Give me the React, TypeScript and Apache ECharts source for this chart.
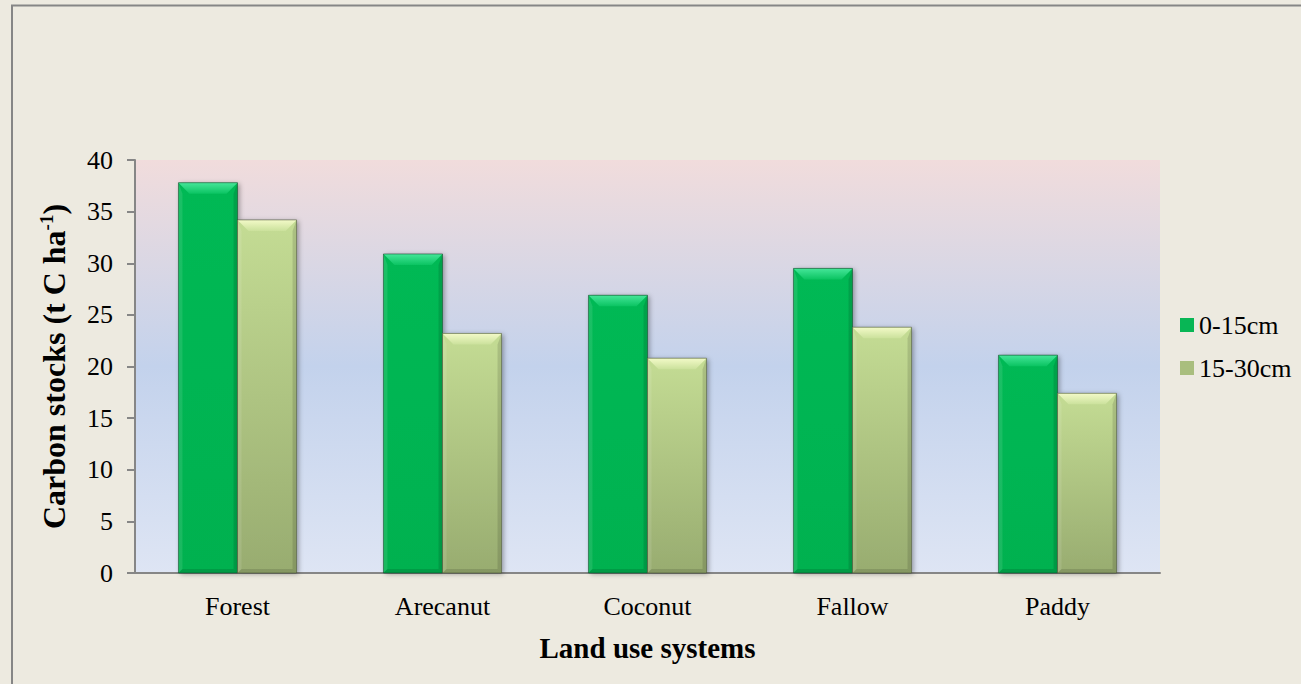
import React, { useEffect, useRef } from "react";
import * as echarts from "echarts";

const categories = ["Forest", "Arecanut", "Coconut", "Fallow", "Paddy"];
const depth0to15 = [37.8, 30.9, 26.9, 29.5, 21.1];
const depth15to30 = [34.2, 23.2, 20.8, 23.8, 17.4];
const seriesNames = ["0-15cm", "15-30cm"];
const yTicks = { min: 0, max: 40, interval: 5 };

const FONT = "Liberation Serif";

const palettes = [
  {
    legend: "#08B655",
    bodyTop: "#05B954",
    bodyBottom: "#03B150",
    bevelTop: "#45E699",
    bevelBottom: "#0BC462",
    border: "rgba(20,70,40,0.55)",
  },
  {
    legend: "#A9BE7E",
    bodyTop: "#C4DC94",
    bodyBottom: "#98AC70",
    bevelTop: "#F3FAC8",
    bevelBottom: "#CBE19C",
    border: "rgba(70,80,50,0.55)",
  },
];

function makeRenderItem(seriesIdx: number) {
  return (params: any, api: any) => {
    const cat = api.value(0);
    const val = api.value(1);
    const top = api.coord([cat, val]);
    const base = api.coord([cat, 0]);
    const band = api.size([1, 0])[0];
    const bw = band * 0.288;
    const x0 = seriesIdx === 0 ? top[0] - bw : top[0];
    const x1 = x0 + bw;
    const y0 = top[1];
    const y1 = base[1];
    const b = 11;
    const s = 4;
    const p = palettes[seriesIdx];
    return {
      type: "group",
      children: [
        {
          type: "rect",
          shape: { x: x0, y: y0, width: bw, height: y1 - y0 },
          style: {
            fill: new echarts.graphic.LinearGradient(0, 0, 0, 1, [
              { offset: 0, color: p.bodyTop },
              { offset: 1, color: p.bodyBottom },
            ]),
            shadowBlur: 5,
            shadowOffsetX: 2,
            shadowOffsetY: 1,
            shadowColor: "rgba(0,0,0,0.35)",
          },
        },
        {
          type: "polygon",
          shape: {
            points: [
              [x0, y0],
              [x0 + s, y0 + b],
              [x0 + s, y1 - s],
              [x0, y1],
            ],
          },
          style: { fill: "rgba(255,255,255,0.10)" },
        },
        {
          type: "polygon",
          shape: {
            points: [
              [x1, y0],
              [x1 - s, y0 + b],
              [x1 - s, y1 - s],
              [x1, y1],
            ],
          },
          style: { fill: "rgba(0,0,0,0.12)" },
        },
        {
          type: "polygon",
          shape: {
            points: [
              [x0, y1],
              [x0 + s, y1 - s],
              [x1 - s, y1 - s],
              [x1, y1],
            ],
          },
          style: { fill: "rgba(0,0,0,0.12)" },
        },
        {
          type: "polygon",
          shape: {
            points: [
              [x0, y0],
              [x1, y0],
              [x1 - b, y0 + b],
              [x0 + b, y0 + b],
            ],
          },
          style: {
            fill: new echarts.graphic.LinearGradient(0, 0, 0, 1, [
              { offset: 0, color: p.bevelTop },
              { offset: 1, color: p.bevelBottom },
            ]),
          },
        },
        {
          type: "rect",
          shape: { x: x0, y: y0, width: bw, height: y1 - y0 },
          style: { fill: "none", stroke: p.border, lineWidth: 1 },
        },
      ],
    };
  };
}

export default function App() {
  const ref = useRef<HTMLDivElement>(null);

  useEffect(() => {
    document.body.style.margin = "0";
    if (!ref.current) return;
    const chart = echarts.init(ref.current, undefined, { renderer: "svg" });
    const allSeries = [depth0to15, depth15to30];

    chart.setOption({
      animation: false,
      backgroundColor: "#EDEAE0",
      textStyle: { fontFamily: FONT },
      grid: {
        left: 135,
        right: 141,
        top: 160,
        bottom: 111,
        show: true,
        borderWidth: 0,
        backgroundColor: new echarts.graphic.LinearGradient(0, 0, 0, 1, [
          { offset: 0, color: "#F1DCDC" },
          { offset: 0.5, color: "#C3D2EC" },
          { offset: 1, color: "#DEE5F4" },
        ]),
      },
      legend: {
        orient: "vertical",
        left: 1180,
        top: 312,
        padding: 0,
        itemWidth: 14,
        itemHeight: 14,
        itemGap: 17,
        icon: "rect",
        data: seriesNames.map((n, i) => ({
          name: n,
          itemStyle: { color: palettes[i].legend },
        })),
        textStyle: {
          fontFamily: FONT,
          fontSize: 26,
          color: "#000",
        },
      },
      xAxis: {
        type: "category",
        data: categories,
        name: "Land use systems",
        nameLocation: "middle",
        nameGap: 60,
        nameTextStyle: {
          fontFamily: FONT,
          fontSize: 29,
          fontWeight: "bold",
          color: "#000",
        },
        axisLine: { show: true, lineStyle: { color: "#868686", width: 2 } },
        axisTick: { show: false },
        axisLabel: {
          fontFamily: FONT,
          fontSize: 26,
          color: "#000",
          margin: 20,
        },
        splitLine: { show: false },
      },
      yAxis: {
        type: "value",
        min: yTicks.min,
        max: yTicks.max,
        interval: yTicks.interval,
        name: "{a|Carbon stocks (t C ha}{s|-1}{a|)}",
        nameLocation: "middle",
        nameGap: 64,
        nameTextStyle: {
          color: "#000",
          rich: {
            a: {
              fontFamily: FONT,
              fontSize: 32,
              fontWeight: "bold",
              color: "#000",
            },
            s: {
              fontFamily: FONT,
              fontSize: 19,
              fontWeight: "bold",
              color: "#000",
              padding: [0, 0, 15, 0],
            },
          },
        },
        axisLine: { show: true, lineStyle: { color: "#868686", width: 2 } },
        axisTick: {
          show: true,
          length: 8,
          lineStyle: { color: "#868686", width: 2 },
        },
        axisLabel: {
          fontFamily: FONT,
          fontSize: 26,
          color: "#000",
          margin: 22,
        },
        splitLine: { show: false },
      },
      graphic: [
        {
          type: "line",
          shape: { x1: 12, y1: 5, x2: 12, y2: 684 },
          style: { stroke: "#868686", lineWidth: 2 },
        },
        {
          type: "line",
          shape: { x1: 11, y1: 5.5, x2: 1301, y2: 5.5 },
          style: { stroke: "#868686", lineWidth: 2 },
        },
      ],
      series: allSeries.map((vals, i) => ({
        type: "custom",
        name: seriesNames[i],
        renderItem: makeRenderItem(i),
        itemStyle: { color: palettes[i].legend },
        encode: { x: 0, y: 1 },
        data: vals.map((v, j) => [j, v]),
      })),
    });

    return () => chart.dispose();
  }, []);

  return <div ref={ref} style={{ width: 1301, height: 684 }} />;
}
